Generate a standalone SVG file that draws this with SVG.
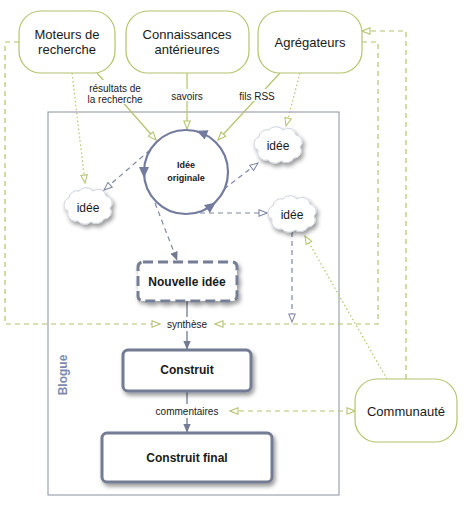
<svg xmlns="http://www.w3.org/2000/svg" width="464" height="505" viewBox="0 0 464 505">
<style>
text{font-family:"Liberation Sans",Arial,sans-serif;fill:#1a1a1a;text-anchor:middle}
.src{fill:#fff;stroke:#b6c26c;stroke-width:1.2}
.t13{font-size:13px}
.t12{font-size:12px}
.lbl{font-size:10px}
.b{font-weight:bold}
.g{fill:none;stroke:#b6c26c;stroke-width:1.2}
.gd{stroke-dasharray:5,4}
.gdot{stroke-dasharray:1.5,2.5}
.bl{fill:none;stroke:#7f87a6;stroke-width:1.2;stroke-dasharray:5,4}
.gs{fill:none;stroke:#737b93;stroke-width:1.3}
.box{fill:#fff;stroke:#737b93;stroke-width:3}
.cloud{fill:#fff;stroke:#cfd3dd;stroke-width:1}
.wb{fill:#fff}
</style>
<defs>
<filter id="sh" x="-30%" y="-30%" width="160%" height="170%">
<feDropShadow dx="2" dy="3" stdDeviation="2.2" flood-color="#000" flood-opacity="0.4"/>
</filter>
<marker id="gO" viewBox="0 0 12 10" refX="11" refY="5" markerWidth="10" markerHeight="8" markerUnits="userSpaceOnUse" orient="auto">
<path d="M1,1 L11,5 L1,9 z" fill="#fff" stroke="#b6c26c" stroke-width="1.3"/>
</marker>
<marker id="gOs" viewBox="0 0 12 10" refX="1" refY="5" markerWidth="10" markerHeight="8" markerUnits="userSpaceOnUse" orient="auto">
<path d="M11,1 L1,5 L11,9 z" fill="#fff" stroke="#b6c26c" stroke-width="1.3"/>
</marker>
<marker id="bO" viewBox="0 0 12 10" refX="11" refY="5" markerWidth="10" markerHeight="8" markerUnits="userSpaceOnUse" orient="auto">
<path d="M1,1 L11,5 L1,9 z" fill="#fff" stroke="#7f87a6" stroke-width="1.3"/>
</marker>
<marker id="bF" viewBox="0 0 12 10" refX="11" refY="5" markerWidth="9" markerHeight="8" markerUnits="userSpaceOnUse" orient="auto">
<path d="M0,0 L12,5 L0,10 z" fill="#737b93"/>
</marker>
<path id="cloudShape" d="M -18,-8 a 8,8 0 0 1 10,-7 a 9,9 0 0 1 14,0 a 8,8 0 0 1 13,5 a 7,7 0 0 1 4,12 a 7,7 0 0 1 -6,11 a 9,9 0 0 1 -13,3 a 9,9 0 0 1 -13,-1 a 8,8 0 0 1 -10,-10 a 7,7 0 0 1 1,-13 z"/>
</defs>
<rect width="464" height="505" fill="#fff"/>

<g id="blogue">
<rect x="48" y="112" width="291" height="383" fill="none" stroke="#8a90a0" stroke-width="1"/>
<text transform="translate(67,375) rotate(-90)" class="t12 b" style="fill:#7f88ae">Blogue</text>
</g>

<g id="connectors">
<!-- green solid to circle -->
<line class="g" x1="97" y1="73" x2="156" y2="140" marker-end="url(#gO)"/>
<line class="g" x1="187" y1="73" x2="187" y2="129" marker-end="url(#gO)"/>
<line class="g" x1="280" y1="73" x2="218" y2="140" marker-end="url(#gO)"/>
<rect class="wb" x="86" y="80" width="58" height="24"/>
<text class="lbl" x="115" y="92">résultats de</text>
<text class="lbl" x="115" y="103">la recherche</text>
<rect class="wb" x="168" y="89" width="38" height="12"/>
<text class="lbl" x="187" y="100">savoirs</text>
<rect class="wb" x="239" y="89" width="37" height="12"/>
<text class="lbl" x="257" y="100">fils RSS</text>
<!-- green dotted -->
<line class="g gdot" x1="72" y1="73" x2="85" y2="183" marker-end="url(#gO)"/>
<line class="g gdot" x1="300" y1="73" x2="286" y2="126" marker-end="url(#gO)"/>
<line class="g gdot" x1="387" y1="379" x2="305" y2="236" marker-end="url(#gO)"/>
<!-- green dashed -->
<polyline class="g gd" points="19,42 5,42 5,324 160,324" marker-end="url(#gO)"/>
<polyline class="g gd" points="362,42 378,42 378,324 215,324" marker-end="url(#gO)"/>
<polyline class="g gd" points="406,379 406,31 362,31" marker-end="url(#gO)"/>
<line class="g gd" x1="230" y1="411" x2="355" y2="411" marker-start="url(#gOs)" marker-end="url(#gO)"/>
<!-- blue dashed -->
<line class="bl" x1="150" y1="150" x2="104" y2="190" marker-end="url(#bO)"/>
<line class="bl" x1="224" y1="189" x2="258" y2="163" marker-end="url(#bO)"/>
<line class="bl" x1="200" y1="213" x2="267" y2="213" marker-end="url(#bO)"/>
<line class="bl" x1="155" y1="203" x2="177" y2="260" marker-end="url(#bF)"/>
<line class="bl" x1="292" y1="232" x2="292" y2="322" marker-end="url(#bO)"/>
<!-- gray solid -->
<line class="gs" x1="187" y1="301" x2="187" y2="349" marker-end="url(#bF)"/>
<rect class="wb" x="164" y="317" width="46" height="14"/>
<text class="lbl" x="187" y="328">synthèse</text>
<line class="gs" x1="187" y1="391" x2="187" y2="432" marker-end="url(#bF)"/>
<rect class="wb" x="150" y="404" width="74" height="14"/>
<text class="lbl" x="187" y="415">commentaires</text>
</g>

<g id="moteurs">
<rect class="src" x="19" y="11" width="96" height="62" rx="22" ry="22"/>
<text class="t13" x="67" y="39">Moteurs de</text>
<text class="t13" x="67" y="54">recherche</text>
</g>
<g id="connaissances">
<rect class="src" x="126" y="11" width="123" height="62" rx="22" ry="22"/>
<text class="t13" x="187" y="39">Connaissances</text>
<text class="t13" x="187" y="54">antérieures</text>
</g>
<g id="agregateurs">
<rect class="src" x="258" y="11" width="104" height="62" rx="22" ry="22"/>
<text class="t13" x="310" y="47">Agrégateurs</text>
</g>
<g id="communaute">
<rect class="src" x="355" y="379" width="102" height="63" rx="22" ry="22"/>
<text class="t13" x="406" y="416">Communauté</text>
</g>

<g id="idee-originale">
<circle cx="186" cy="172" r="42" fill="#fff" stroke="#737b9f" stroke-width="2.2"/>
<polygon points="6,0 -5,-5 -5,5" fill="#737b9f" transform="translate(202,133) rotate(-158)"/>
<polygon points="6,0 -5,-5 -5,5" fill="#737b9f" transform="translate(144,172) rotate(90)"/>
<polygon points="6,0 -5,-5 -5,5" fill="#737b9f" transform="translate(211,206) rotate(-36)"/>
<text class="b" style="font-size:9px" x="186" y="168">Idée</text>
<text class="b" style="font-size:9px" x="186" y="181">originale</text>
</g>

<g id="idee1" transform="translate(87,206)">
<use href="#cloudShape" class="cloud" filter="url(#sh)"/>
<text class="t12" x="1" y="6">idée</text>
</g>
<g id="idee2" transform="translate(277,145)">
<use href="#cloudShape" class="cloud" filter="url(#sh)"/>
<text class="t12" x="1" y="5">idée</text>
</g>
<g id="idee3" transform="translate(291,214)">
<use href="#cloudShape" class="cloud" filter="url(#sh)"/>
<text class="t12" x="1" y="5">idée</text>
</g>

<g id="nouvelle-idee">
<rect x="138" y="262" width="99" height="39" rx="5" fill="#fff" stroke="#767e96" stroke-width="3" stroke-dasharray="10,5" filter="url(#sh)"/>
<text class="t12 b" x="187" y="286">Nouvelle idée</text>
</g>
<g id="construit">
<rect class="box" x="123" y="350" width="128" height="41" rx="5" filter="url(#sh)"/>
<text class="t12 b" x="187" y="374">Construit</text>
</g>
<g id="construit-final">
<rect class="box" x="102" y="433" width="170" height="49" rx="5" filter="url(#sh)"/>
<text class="t12 b" x="187" y="462">Construit final</text>
</g>
</svg>
